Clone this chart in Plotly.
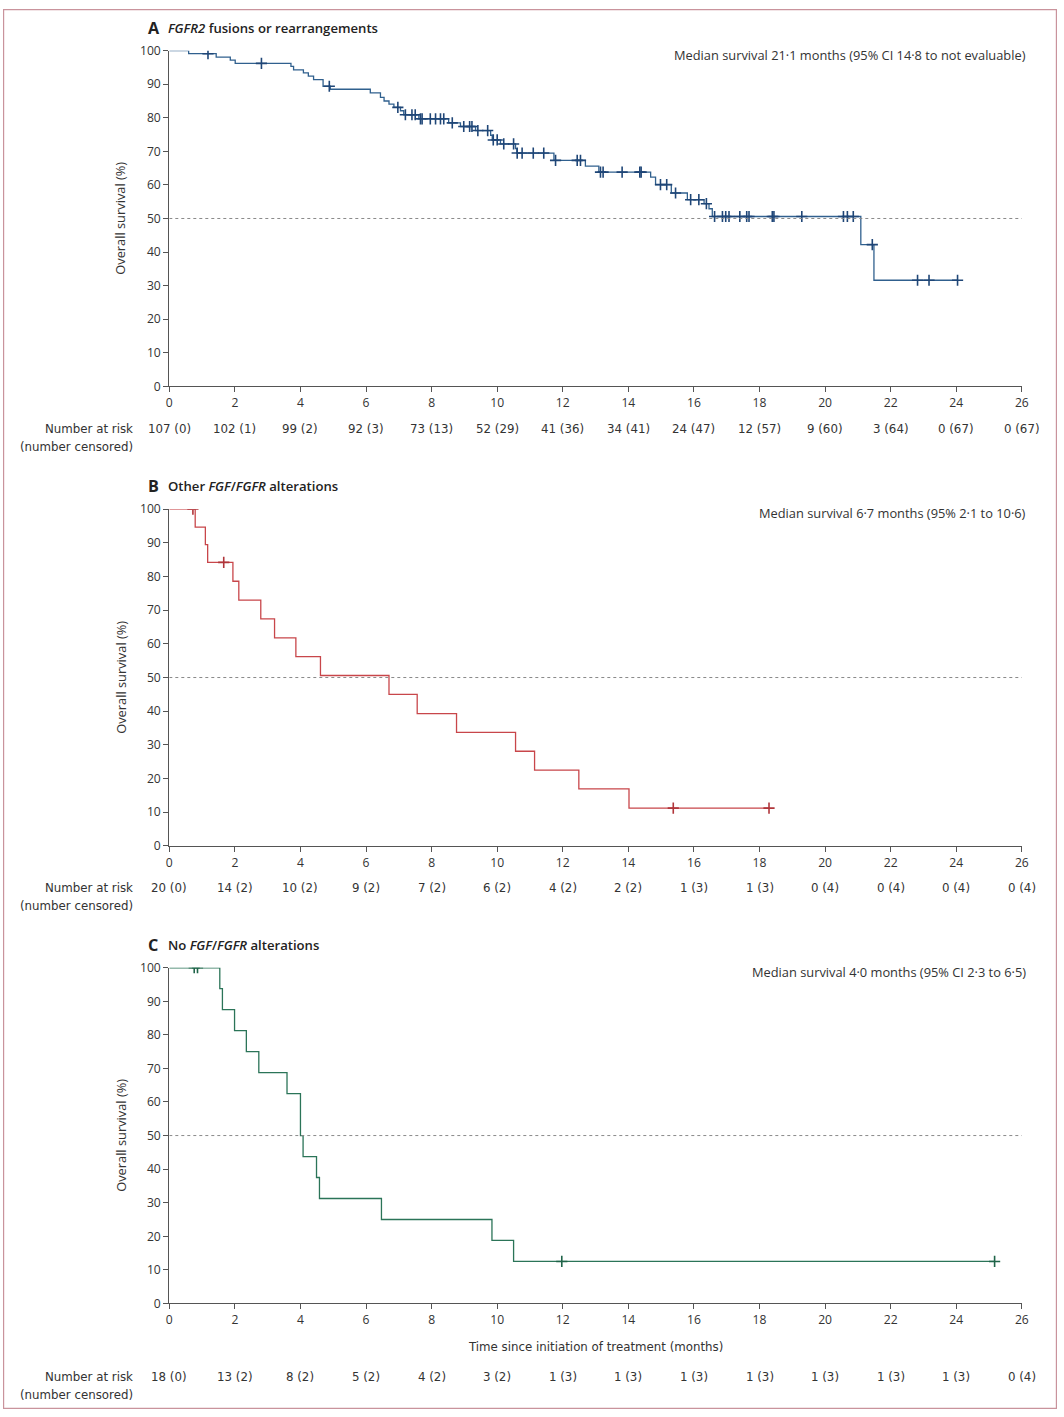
import numpy as np
import plotly.graph_objects as go

W, H = 1064, 1417

# ---------------- data ----------------
months = list(range(0, 27, 2))

A_times = [0.59, 1.43, 1.86, 2.01, 3.71, 3.79, 4.09, 4.24, 4.40, 4.69, 4.91, 6.13, 6.44, 6.55,
           6.70, 6.85, 7.05, 7.15, 7.61, 8.52, 8.88, 9.34, 9.80, 9.85, 10.10, 10.56, 10.60,
           11.73, 12.69, 13.10, 14.68, 14.83, 15.31, 15.80, 16.31, 16.46, 16.56, 21.09, 21.49]
A_surv = [99.1, 98.1, 97.2, 96.2, 95.3, 94.3, 93.4, 92.4, 91.4, 89.4, 88.5, 87.4, 86.1, 85.0,
          84.1, 83.1, 82.1, 80.9, 79.7, 78.5, 77.4, 76.2, 74.8, 73.4, 72.2, 70.8, 69.5,
          67.3, 65.6, 63.8, 62.3, 60.1, 57.6, 55.6, 54.4, 52.9, 50.6, 42.2, 31.6]
A_censor = [1.18, 2.81, 4.88, 6.97, 7.20, 7.40, 7.50, 7.66, 7.71, 7.96, 8.12, 8.27, 8.37, 8.63,
            8.98, 9.16, 9.23, 9.41, 9.71, 9.88, 10.00, 10.20, 10.50, 10.61, 10.76, 11.10, 11.42,
            11.78, 12.44, 12.54, 13.15, 13.23, 13.81, 14.35, 14.39, 14.98, 15.17, 15.44, 15.90,
            16.15, 16.38, 16.63, 16.87, 16.97, 17.07, 17.40, 17.61, 17.68, 18.39, 18.44, 19.29,
            20.56, 20.68, 20.86, 21.44, 22.82, 23.17, 24.04]

B_times = [0.79, 1.10, 1.17, 1.94, 2.12, 2.79, 3.21, 3.86, 4.61, 6.70, 7.56, 8.76, 10.56,
           11.14, 12.49, 14.02]
B_surv = [94.7, 89.5, 84.2, 78.6, 73.0, 67.4, 61.8, 56.2, 50.6, 45.0, 39.3, 33.7, 28.1,
          22.5, 16.9, 11.2]
B_censor = [0.72, 1.66, 15.37, 18.29]

C_times = [1.54, 1.62, 1.99, 2.35, 2.73, 3.59, 4.00, 4.08, 4.49, 4.58, 6.47, 9.84, 10.50]
C_surv = [93.75, 87.5, 81.25, 75.0, 68.75, 62.5, 50.0, 43.75, 37.5, 31.25, 25.0, 18.75, 12.5]
C_censor = [0.76, 0.86, 11.97, 25.17]

A_risk = ["107 (0)", "102 (1)", "99 (2)", "92 (3)", "73 (13)", "52 (29)", "41 (36)", "34 (41)",
          "24 (47)", "12 (57)", "9 (60)", "3 (64)", "0 (67)", "0 (67)"]
B_risk = ["20 (0)", "14 (2)", "10 (2)", "9 (2)", "7 (2)", "6 (2)", "4 (2)", "2 (2)", "1 (3)",
          "1 (3)", "0 (4)", "0 (4)", "0 (4)", "0 (4)"]
C_risk = ["18 (0)", "13 (2)", "8 (2)", "5 (2)", "4 (2)", "3 (2)", "1 (3)", "1 (3)", "1 (3)",
          "1 (3)", "1 (3)", "1 (3)", "1 (3)", "0 (4)"]

titles = ["<i>FGFR2</i> fusions or rearrangements",
          "Other <i>FGF</i>/<i>FGFR</i> alterations",
          "No <i>FGF</i>/<i>FGFR</i> alterations"]
letters = ["A", "B", "C"]
medians = ["Median survival 21\u00b71 months (95% CI 14\u00b78 to not evaluable)",
           "Median survival 6\u00b77 months (95% 2\u00b71 to 10\u00b76)",
           "Median survival 4\u00b70 months (95% CI 2\u00b73 to 6\u00b75)"]
colors = ["#30608e", "#c8464a", "#2b7458"]
marker_colors = ["#1f4677", "#b0353a", "#1f6449"]

# ---------------- layout geometry (target pixels) ----------------
X0, X1 = 169, 1021
panels = [(50, 386), (509, 846), (968, 1304)]

# the photographed page comes out slightly shrunk and offset; compensate
SX, OX = 0.990, 2.8
SY, OY = 0.989, 8.3

def px(x):
    return ((x - OX) / SX) / W

def py(y):
    return 1 - ((y - OY) / SY) / H

def fs(v):
    return v / SY

FONT = "Open Sans, Noto Sans, sans-serif"
NARROW = "DejaVu Sans Condensed, Liberation Sans Narrow, Lato, sans-serif"

fig = go.Figure()
layout = dict(width=W, height=H, margin=dict(l=0, r=0, t=0, b=0),
              paper_bgcolor="white", plot_bgcolor="white", showlegend=False)
annotations = []
shapes = []

datasets = [(A_times, A_surv, A_censor, A_risk),
            (B_times, B_surv, B_censor, B_risk),
            (C_times, C_surv, C_censor, C_risk)]

for i, ((times, surv, cens, risk), (top, bot)) in enumerate(zip(datasets, panels)):
    n = "" if i == 0 else str(i + 1)
    xa, ya = "x" + n, "y" + n
    end = max(max(cens), max(times))
    xs = [0] + list(times) + [end]
    ys = [100] + list(surv) + [surv[-1]]
    fig.add_trace(go.Scatter(x=xs, y=ys, mode="lines", line=dict(shape="hv", color=colors[i], width=1.3),
                             xaxis=xa, yaxis=ya, hoverinfo="skip"))
    t_arr = np.array(times)
    s_arr = np.array(surv)
    cy = []
    for c in cens:
        k = np.searchsorted(t_arr, c, side="right")
        cy.append(100.0 if k == 0 else float(s_arr[k - 1]))
    fig.add_trace(go.Scatter(x=cens, y=cy, mode="markers",
                             marker=dict(symbol="cross-thin", size=8,
                                         line=dict(width=1.6, color=marker_colors[i])),
                             xaxis=xa, yaxis=ya, hoverinfo="skip"))

    layout["xaxis" + n] = dict(domain=[px(X0), px(X1)], range=[0, 26], anchor=ya,
                               tickvals=months, ticks="outside", ticklen=5, tickcolor="#555",
                               showline=True, linecolor="#555", linewidth=1.2, showgrid=False,
                               zeroline=False, tickfont=dict(family=FONT, size=fs(12), color="#333"),
                               fixedrange=True)
    layout["yaxis" + n] = dict(domain=[py(bot), py(top)], range=[0, 100], anchor=xa,
                               tickvals=list(range(0, 101, 10)), ticks="outside", ticklen=5,
                               tickcolor="#555", showline=True, linecolor="#555", linewidth=1.2,
                               showgrid=False, zeroline=False,
                               tickfont=dict(family=FONT, size=fs(12), color="#333"), fixedrange=True)

    # dotted median reference
    shapes.append(dict(type="line", xref=xa, yref=ya, x0=0, x1=26, y0=50, y1=50,
                       line=dict(color="#8a8a8a", width=1, dash="3px,3px")))

    # panel title
    annotations.append(dict(xref="paper", yref="paper", x=px(146), y=py(top - 23),
                            xanchor="left", yanchor="middle", showarrow=False,
                            text="<b>" + letters[i] + "</b>",
                            font=dict(family=FONT, size=fs(16), color="#222")))
    annotations.append(dict(xref="paper", yref="paper", x=px(166), y=py(top - 23),
                            xanchor="left", yanchor="middle", showarrow=False,
                            text=titles[i], font=dict(family=FONT, size=fs(13), color="#222", weight=600)))
    # median text
    annotations.append(dict(xref="paper", yref="paper", x=px(1027), y=py(top + 4),
                            xanchor="right", yanchor="middle", showarrow=False,
                            text=medians[i], font=dict(family=FONT, size=fs(12.7), color="#333")))
    # y title
    annotations.append(dict(xref="paper", yref="paper", x=px(120), y=py((top + bot) / 2),
                            xanchor="center", yanchor="middle", showarrow=False, textangle=-90,
                            text="Overall survival (%)",
                            font=dict(family=FONT, size=fs(12.7), color="#333")))
    # number at risk rows
    row_y = bot + 42 if i < 2 else bot + 73
    annotations.append(dict(xref="paper", yref="paper", x=px(135), y=py(row_y),
                            xanchor="right", yanchor="middle", showarrow=False,
                            text="Number at risk", font=dict(family=NARROW, size=fs(13), color="#333")))
    annotations.append(dict(xref="paper", yref="paper", x=px(135), y=py(row_y + 18),
                            xanchor="right", yanchor="middle", showarrow=False,
                            text="(number censored)", font=dict(family=NARROW, size=fs(13), color="#333")))
    for m, r in zip(months, risk):
        annotations.append(dict(xref=xa, yref="paper", x=m, y=py(row_y),
                                xanchor="center", yanchor="middle", showarrow=False,
                                text=r, font=dict(family=NARROW, size=fs(13), color="#333")))

# x axis title for panel C
annotations.append(dict(xref="paper", yref="paper", x=px((X0 + X1) / 2), y=py(1347),
                        xanchor="center", yanchor="middle", showarrow=False,
                        text="Time since initiation of treatment (months)",
                        font=dict(family=NARROW, size=fs(13), color="#333")))

# outer frame (kept inside the page)
shapes.append(dict(type="rect", xref="paper", yref="paper",
                   x0=max(px(2), 0.6 / W), x1=min(px(1060), 1 - 0.6 / W),
                   y0=max(py(1415), 0.6 / H), y1=min(py(3), 1 - 0.6 / H),
                   line=dict(color="#c9939c", width=1.2)))

layout["annotations"] = annotations
layout["shapes"] = shapes
fig.update_layout(**layout)

page_fix = (
    "var s=document.createElement('style');"
    "s.textContent='html,body{margin:0!important;padding:0!important;overflow:hidden!important;"
    "width:1064px;height:1417px;}';"
    "document.head.appendChild(s);"
    "window.scrollTo(0,0);"
)
fig.write_html("out.html", config={"displayModeBar": False, "responsive": False},
               post_script=page_fix)
